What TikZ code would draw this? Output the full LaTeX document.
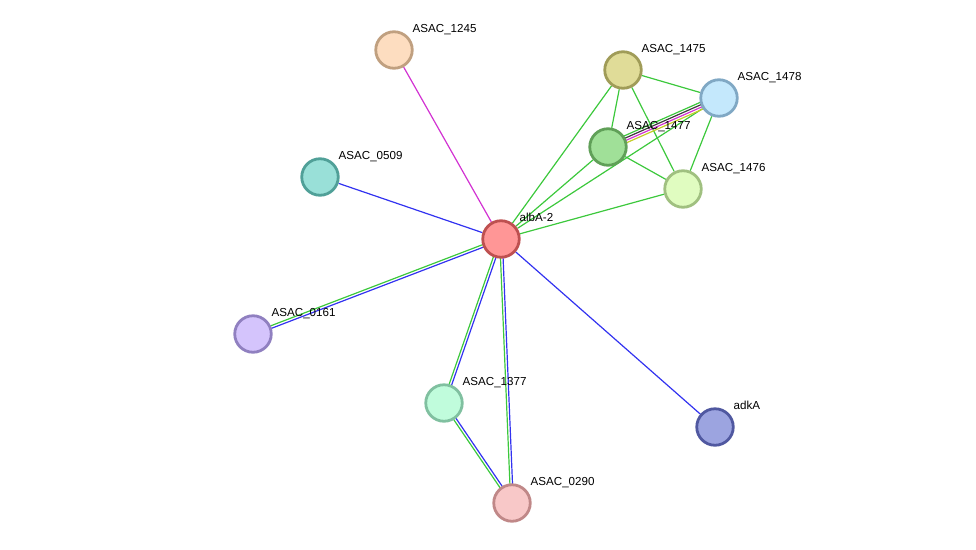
\documentclass[tikz,border=0pt]{standalone}
\usepackage{fontspec}
\setmainfont{Liberation Sans}
\usetikzlibrary{calc}
\pgfdeclarelayer{bg}\pgfsetlayers{bg,main}
\definecolor{cgreen}{RGB}{60,200,60}
\definecolor{cblue}{RGB}{50,50,240}
\definecolor{cmag}{RGB}{210,50,210}
\definecolor{cblack}{RGB}{60,60,60}
\definecolor{cyel}{RGB}{195,205,40}
\tikzset{
  prot/.style={circle,minimum size=36.5pt,inner sep=0pt,line width=2.8pt},
  lbl/.style={anchor=base west,inner sep=0pt,font=\fontsize{11.6}{13}\selectfont},
  edge/.style={line width=1.2pt}
}
\newcommand\pe[4]{\draw[edge,#1] ($(#2)!#4!90:(#3)$) -- ($(#3)!#4!-90:(#2)$);}
\begin{document}
\begin{tikzpicture}[x=1pt,y=-1pt]
\useasboundingbox (0,0) rectangle (976,549);
% nodes
\node[prot,fill={rgb,255:red,255;green,150;blue,150},draw={rgb,255:red,190;green,80;blue,80}] (albA) at (501,239) {};
\node[prot,fill={rgb,255:red,253;green,221;blue,192},draw={rgb,255:red,192;green,160;blue,128}] (n1245) at (394,50) {};
\node[prot,fill={rgb,255:red,153;green,224;blue,216},draw={rgb,255:red,80;green,160;blue,152}] (n0509) at (320,177) {};
\node[prot,fill={rgb,255:red,212;green,196;blue,252},draw={rgb,255:red,144;green,128;blue,192}] (n0161) at (253,334) {};
\node[prot,fill={rgb,255:red,192;green,252;blue,220},draw={rgb,255:red,128;green,192;blue,160}] (n1377) at (444,403) {};
\node[prot,fill={rgb,255:red,248;green,200;blue,200},draw={rgb,255:red,192;green,136;blue,136}] (n0290) at (512,503) {};
\node[prot,fill={rgb,255:red,156;green,164;blue,224},draw={rgb,255:red,80;green,88;blue,160}] (adkA) at (715,427) {};
\node[prot,fill={rgb,255:red,224;green,220;blue,152},draw={rgb,255:red,160;green,156;blue,88}] (n1475) at (623,70) {};
\node[prot,fill={rgb,255:red,196;green,232;blue,252},draw={rgb,255:red,128;green,168;blue,196}] (n1478) at (719,98) {};
\node[prot,fill={rgb,255:red,160;green,224;blue,152},draw={rgb,255:red,96;green,160;blue,88}] (n1477) at (608,147) {};
\node[prot,fill={rgb,255:red,224;green,252;blue,192},draw={rgb,255:red,160;green,192;blue,128}] (n1476) at (683,189) {};
% labels
\node[lbl] (lalbA) at ($(albA)+(18.5,-17.5)$) {albA-2};
\node[lbl] (l1245) at ($(n1245)+(18.5,-17.5)$) {ASAC\_1245};
\node[lbl] (l0509) at ($(n0509)+(18.5,-17.5)$) {ASAC\_0509};
\node[lbl] (l0161) at ($(n0161)+(18.5,-17.5)$) {ASAC\_0161};
\node[lbl] (l1377) at ($(n1377)+(18.5,-17.5)$) {ASAC\_1377};
\node[lbl] (l0290) at ($(n0290)+(18.5,-17.5)$) {ASAC\_0290};
\node[lbl] (ladkA) at ($(adkA)+(18.5,-17.5)$) {adkA};
\node[lbl] (l1475) at ($(n1475)+(18.5,-17.5)$) {ASAC\_1475};
\node[lbl] (l1478) at ($(n1478)+(18.5,-17.5)$) {ASAC\_1478};
\node[lbl] (l1477) at ($(n1477)+(18.5,-17.5)$) {ASAC\_1477};
\node[lbl] (l1476) at ($(n1476)+(18.5,-17.5)$) {ASAC\_1476};
% edges
\begin{pgfonlayer}{bg}
\draw[edge,cmag] (albA) -- (n1245);
\draw[edge,cblue] (albA) -- (n0509);
\draw[edge,cblue] (albA) -- (adkA);
\pe{cblue}{albA}{n0161}{1.3pt}
\pe{cgreen}{albA}{n0161}{-1.3pt}
\pe{cblue}{albA}{n1377}{1.3pt}
\pe{cgreen}{albA}{n1377}{-1.3pt}
\pe{cblue}{albA}{n0290}{1.3pt}
\pe{cgreen}{albA}{n0290}{-1.3pt}
\pe{cblue}{n1377}{n0290}{1.3pt}
\pe{cgreen}{n1377}{n0290}{-1.3pt}
\draw[edge,cgreen] (albA) -- (n1475);
\draw[edge,cgreen] (albA) -- (n1477);
\draw[edge,cgreen] (albA) -- (n1478);
\draw[edge,cgreen] (albA) -- (n1476);
\draw[edge,cgreen] (n1475) -- (n1478);
\draw[edge,cgreen] (n1475) -- (n1477);
\draw[edge,cgreen] (n1475) -- (n1476);
\draw[edge,cgreen] (n1477) -- (n1476);
\draw[edge,cgreen] (n1478) -- (n1476);
\pe{cgreen}{n1477}{n1478}{3.6pt}
\pe{cblack}{n1477}{n1478}{1.2pt}
\pe{cmag}{n1477}{n1478}{-1.2pt}
\pe{cyel}{n1477}{n1478}{-3.6pt}
\end{pgfonlayer}
\end{tikzpicture}
\end{document}
